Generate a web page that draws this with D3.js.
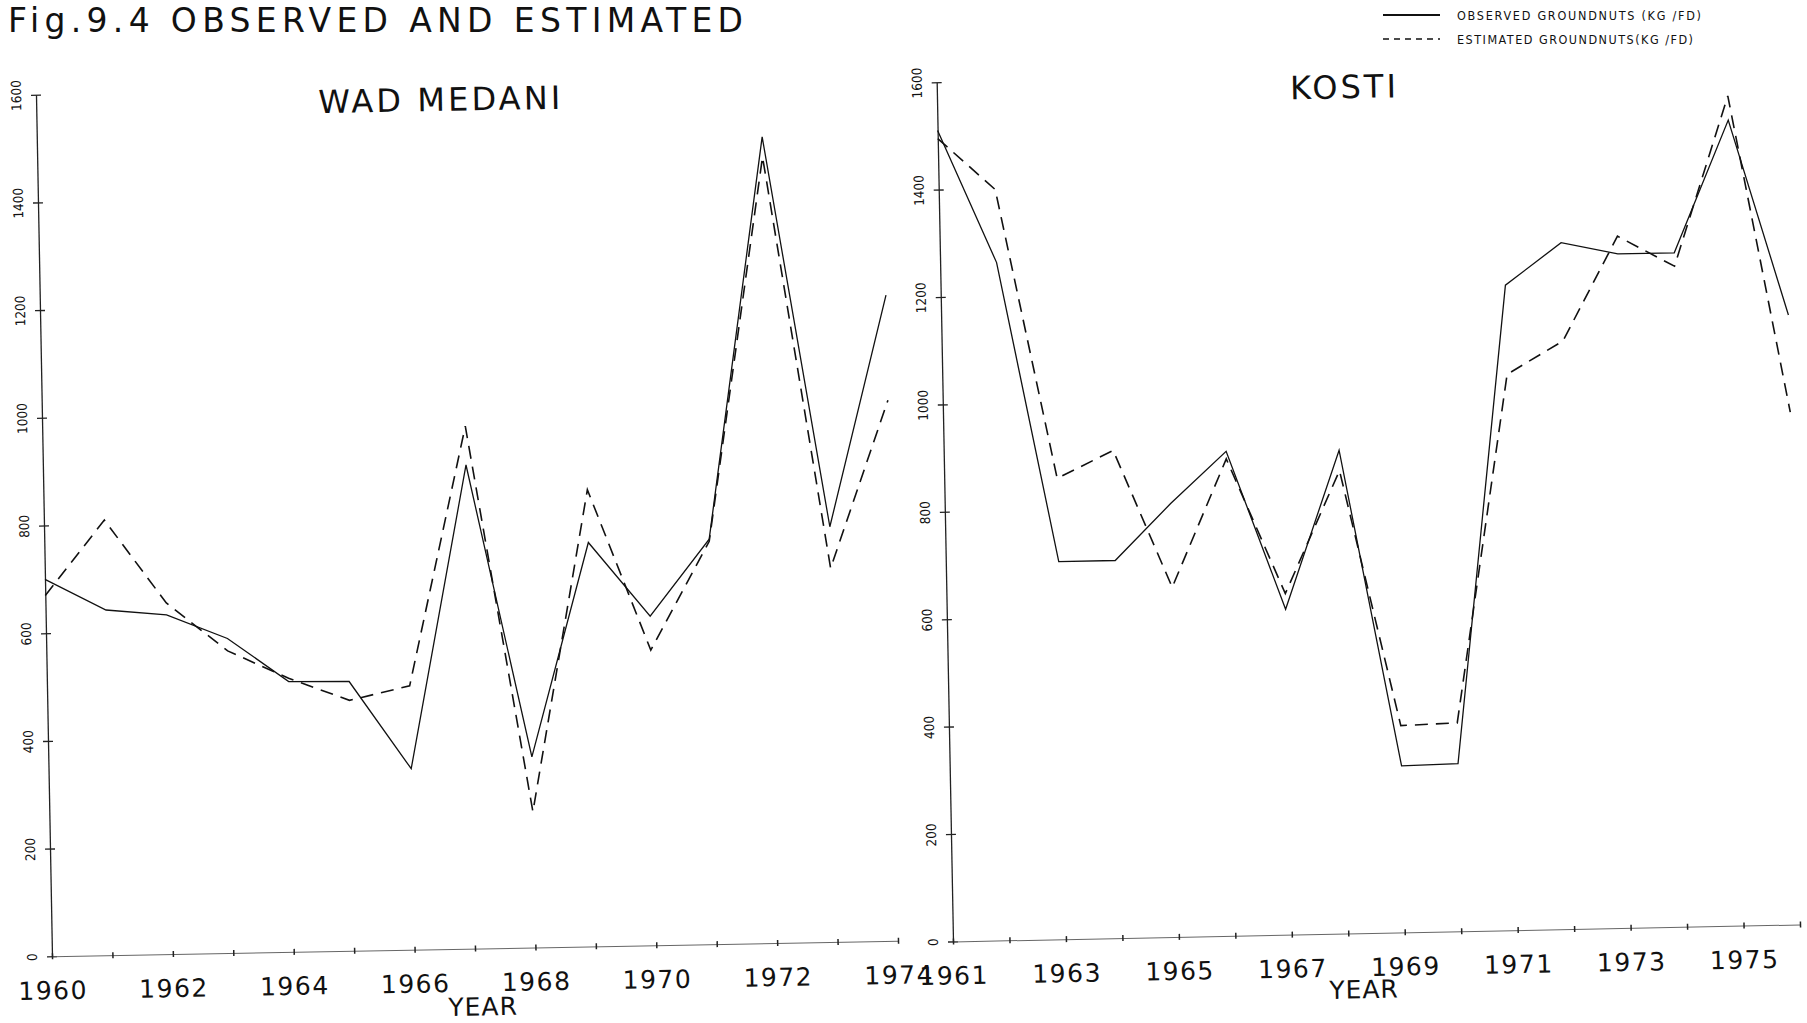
<!DOCTYPE html>
<html>
<head>
<meta charset="utf-8">
<script src="https://cdnjs.cloudflare.com/ajax/libs/d3/7.8.5/d3.min.js"></script>
<style>
  body { margin: 0; background: #fff; }
  svg { display: block; }
  .sans { font-family: "DejaVu Sans", sans-serif; fill: #111; }
  .cond { font-family: "DejaVu Sans Condensed", "DejaVu Sans", sans-serif; fill: #111; }
</style>
</head>
<body>
<div class="chart"></div>
<script>
// values (kg / feddan)
var wadYears = [1960, 1961, 1962, 1963, 1964, 1965, 1966, 1967, 1968, 1969, 1970, 1971, 1972, 1973, 1974];
var wadObserved = [700, 641, 630, 584, 502, 500, 336, 898, 354, 750, 611, 752, 1497, 771, 1199];
var wadEstimated = [670, 808, 652, 561, 508, 465, 490, 970, 252, 848, 548, 748, 1460, 694, 1004];

var kostiYears = [1961, 1962, 1963, 1964, 1965, 1966, 1967, 1968, 1969, 1970, 1971, 1972, 1973, 1974, 1975, 1976];
var kostiObserved = [1510, 1262, 703, 703, 807, 902, 606, 900, 310, 312, 1201, 1278, 1255, 1255, 1500, 1135];
var kostiEstimated = [1495, 1398, 858, 908, 651, 888, 635, 862, 385, 388, 1035, 1095, 1288, 1230, 1545, 954];

var wadYearLabels = [1960, 1962, 1964, 1966, 1968, 1970, 1972, 1974];
var kostiYearLabels = [1961, 1963, 1965, 1967, 1969, 1971, 1973, 1975];
var valueTicks = [0, 200, 400, 600, 800, 1000, 1200, 1400, 1600];
var legendLabels = ['OBSERVED GROUNDNUTS  (KG /FD)', 'ESTIMATED GROUNDNUTS(KG /FD)'];

var svgWidth = 1807;
var svgHeight = 1023;

var svg = d3
  .select('.chart')
  .append('svg')
  .attr('width', svgWidth)
  .attr('height', svgHeight);

// figure title, right at the top of the scan
svg.append('text')
  .attr('class', 'sans')
  .attr('x', 8)
  .attr('y', 32)
  .attr('font-size', 33)
  .attr('textLength', 735)
  .attr('lengthAdjust', 'spacing')
  .text('Fig.9.4 OBSERVED AND ESTIMATED');

// legend
var legend = svg.append('g');
legend.append('line')
  .attr('x1', 1383).attr('x2', 1440).attr('y1', 15).attr('y2', 15)
  .attr('stroke', '#111').attr('stroke-width', 1.8);
legend.append('line')
  .attr('x1', 1383).attr('x2', 1440).attr('y1', 39).attr('y2', 39)
  .attr('stroke', '#111').attr('stroke-width', 1.5)
  .attr('stroke-dasharray', '6,5');
legend.selectAll('text.leg')
  .data(legendLabels)
  .enter()
  .append('text')
  .attr('class', 'cond leg')
  .attr('x', 1457)
  .attr('y', function(d, i) { return 19.5 + i * 24; })
  .attr('font-size', 12.5)
  .attr('textLength', function(d, i) { return i === 0 ? 244 : 236; })
  .attr('lengthAdjust', 'spacing')
  .text(function(d) { return d; });

// each panel sits on the scan with a slight skew, so draw it inside a matrix transform
function drawPanel(p) {
  var g = svg.append('g')
    .attr('transform', 'matrix(1,' + p.tilt + ',' + p.lean + ',1,' + p.ox + ',' + p.oy + ')');

  var x = d3.scaleLinear()
    .domain([p.years[0], p.years[p.years.length - 1]])
    .range([0, p.width]);
  var y = d3.scaleLinear().domain([0, 1600]).range([0, -p.height]);

  // y axis with cross ticks and rotated labels
  var yAxis = g.append('g')
    .call(d3.axisLeft(y)
      .tickValues(valueTicks)
      .tickFormat(d3.format('d'))
      .tickSize(5)
      .tickSizeOuter(0));
  yAxis.attr('font-family', null).attr('font-size', null);
  yAxis.select('.domain').attr('stroke', '#222').attr('stroke-width', 1.3);
  yAxis.selectAll('.tick line').attr('x1', 5).attr('x2', -5).attr('stroke', '#222').attr('stroke-width', 1.3);
  yAxis.selectAll('.tick text')
    .attr('class', 'cond')
    .attr('x', 0)
    .attr('dy', null)
    .attr('font-size', 13.5)
    .attr('text-anchor', 'middle')
    .attr('dominant-baseline', 'central')
    .attr('transform', 'translate(-20,0) rotate(-90)');

  // x axis, a tick every year, labels every other year
  var xAxis = g.append('g')
    .call(d3.axisBottom(x)
      .tickValues(p.years)
      .tickSize(4)
      .tickSizeOuter(0)
      .tickFormat(function(d) { return p.labels.indexOf(d) >= 0 ? d : ''; }));
  xAxis.attr('font-family', null).attr('font-size', null);
  xAxis.select('.domain').attr('stroke', '#666').attr('stroke-width', 1);
  xAxis.selectAll('.tick line').attr('y1', -3).attr('y2', 3).attr('stroke', '#222').attr('stroke-width', 1.5);
  xAxis.selectAll('.tick text')
    .attr('class', 'sans')
    .attr('y', 43)
    .attr('dy', null)
    .attr('font-size', 25)
    .attr('letter-spacing', 1.5);

  g.append('text')
    .attr('class', 'sans')
    .attr('x', p.yearX)
    .attr('y', p.yearY)
    .attr('text-anchor', 'middle')
    .attr('font-size', 25)
    .attr('letter-spacing', 1)
    .text('YEAR');

  g.append('text')
    .attr('class', 'sans')
    .attr('x', p.titleX)
    .attr('y', p.titleY)
    .attr('text-anchor', 'middle')
    .attr('font-size', 32)
    .attr('textLength', p.titleLen)
    .attr('lengthAdjust', 'spacing')
    .text(p.title);

  var line = d3.line()
    .x(function(d) { return x(d.year); })
    .y(function(d) { return y(d.value); });

  var observed = p.years.map(function(yr, i) { return { year: yr, value: p.observed[i] }; });
  var estimated = p.years.map(function(yr, i) { return { year: yr, value: p.estimated[i] }; });

  g.append('path')
    .datum(observed)
    .attr('d', line)
    .attr('fill', 'none')
    .attr('stroke', '#111')
    .attr('stroke-width', 1.3);

  g.append('path')
    .datum(estimated)
    .attr('d', line)
    .attr('fill', 'none')
    .attr('stroke', '#111')
    .attr('stroke-width', 1.6)
    .attr('stroke-dasharray', '13,8');
}

drawPanel({
  ox: 52, oy: 956.3, tilt: -0.0183, lean: 0.0186,
  width: 846, height: 861.6,
  years: wadYears, observed: wadObserved, estimated: wadEstimated,
  labels: wadYearLabels,
  title: 'WAD MEDANI', titleX: 403, titleY: -838, titleLen: 242,
  yearX: 430, yearY: 67
});

drawPanel({
  ox: 953, oy: 941.4, tilt: -0.02, lean: 0.019,
  width: 847, height: 859.2,
  years: kostiYears, observed: kostiObserved, estimated: kostiEstimated,
  labels: kostiYearLabels,
  title: 'KOSTI', titleX: 406, titleY: -835, titleLen: 106,
  yearX: 410, yearY: 65
});
</script>
</body>
</html>
